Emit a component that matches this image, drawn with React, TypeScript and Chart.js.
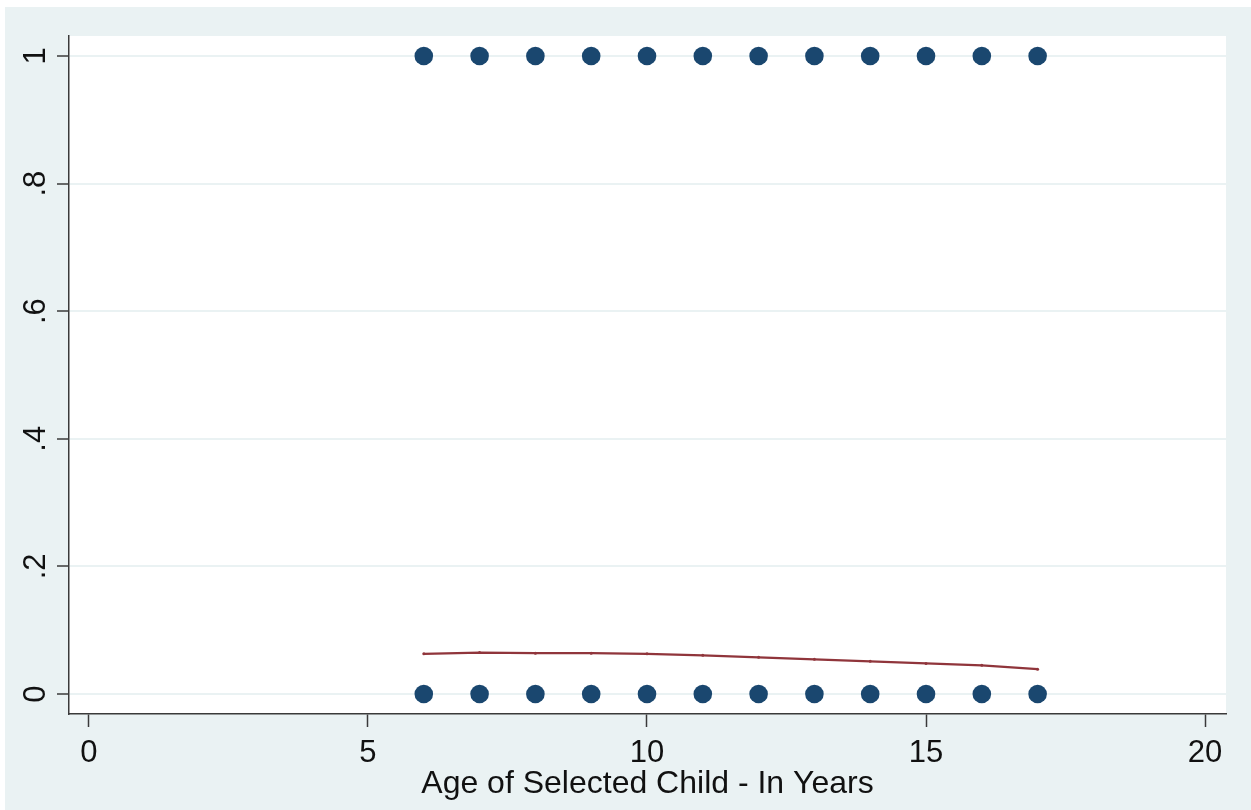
import React, { useEffect, useRef } from "react";
import { Chart, registerables } from "chart.js";

Chart.register(...registerables);

// Data
const ages = [6, 7, 8, 9, 10, 11, 12, 13, 14, 15, 16, 17];
const outcomeOne = [1, 1, 1, 1, 1, 1, 1, 1, 1, 1, 1, 1];
const outcomeZero = [0, 0, 0, 0, 0, 0, 0, 0, 0, 0, 0, 0];
const lowessFit = [0.063, 0.065, 0.064, 0.064, 0.063, 0.0606, 0.0575, 0.0544, 0.0512, 0.048, 0.045, 0.039];
const xTicks = [0, 5, 10, 15, 20];
const xTickLabels = ["0", "5", "10", "15", "20"];
const yTicks = [0, 0.2, 0.4, 0.6, 0.8, 1];
const yTickLabels = ["0", ".2", ".4", ".6", ".8", "1"];
const xTitle = "Age of Selected Child - In Years";

const BG = "#EAF2F3";
const AXIS = "#3a3a3a";
const FONT = "'Liberation Sans', Arial, sans-serif";

export default function App() {
  const ref = useRef<HTMLCanvasElement | null>(null);

  useEffect(() => {
    const canvas = ref.current;
    if (!canvas) return;

    const bgPlugin = {
      id: "stataBg",
      beforeDraw(chart: any) {
        const { ctx, chartArea } = chart;
        ctx.save();
        ctx.fillStyle = "#ffffff";
        ctx.fillRect(0, 0, chart.width, chart.height);
        ctx.fillStyle = BG;
        ctx.fillRect(5, 7, chart.width - 5, chart.height - 7);
        ctx.fillStyle = "#ffffff";
        ctx.fillRect(chartArea.left, chartArea.top, chartArea.right - chartArea.left, chartArea.bottom - chartArea.top);
        ctx.restore();
      },
      afterDraw(chart: any) {
        const { ctx } = chart;
        const ys = chart.scales.y;
        ctx.save();
        ctx.fillStyle = "#111111";
        ctx.font = `31px ${FONT}`;
        ctx.textAlign = "center";
        ctx.textBaseline = "alphabetic";
        yTicks.forEach((v, i) => {
          const py = ys.getPixelForValue(v);
          ctx.save();
          ctx.translate(45, py);
          ctx.rotate(-Math.PI / 2);
          ctx.fillText(yTickLabels[i], 0, 0);
          ctx.restore();
        });
        ctx.restore();
      },
    };

    const chart = new Chart(canvas, {
      type: "scatter",
      data: {
        datasets: [
          {
            label: "Lowess",
            type: "line",
            data: ages.map((a, i) => ({ x: a, y: lowessFit[i] })),
            borderColor: "#90353B",
            backgroundColor: "#90353B",
            borderWidth: 2.2,
            pointRadius: 1.5,
            pointBorderWidth: 0,
            tension: 0,
            fill: false,
            order: 0,
          } as any,
          {
            label: "One",
            data: ages.map((a, i) => ({ x: a, y: outcomeOne[i] })),
            backgroundColor: "#1A476F",
            borderWidth: 0,
            pointRadius: 9.3,
            order: 1,
          },
          {
            label: "Zero",
            data: ages.map((a, i) => ({ x: a, y: outcomeZero[i] })),
            backgroundColor: "#1A476F",
            borderWidth: 0,
            pointRadius: 9.3,
            order: 1,
          },
        ],
      },
      options: {
        animation: false,
        responsive: false,
        maintainAspectRatio: false,
        layout: { padding: { left: 0, right: 25, top: 36, bottom: 0 } },
        plugins: {
          legend: { display: false },
          tooltip: { enabled: false },
        },
        scales: {
          x: {
            type: "linear",
            min: -0.358,
            max: 20.376,
            afterBuildTicks: (s: any) => {
              s.ticks = xTicks.map((v) => ({ value: v }));
            },
            afterFit: (s: any) => {
              s.height = 96;
            },
            ticks: {
              callback: (v: any) => {
                const i = xTicks.indexOf(Number(v));
                return i >= 0 ? xTickLabels[i] : "";
              },
              color: "#111111",
              font: { family: FONT, size: 31 },
              padding: 8,
              maxRotation: 0,
              autoSkip: false,
            },
            grid: {
              drawOnChartArea: false,
              drawTicks: true,
              tickLength: 13,
              tickColor: AXIS,
              tickWidth: 1.5,
            },
            border: { display: true, color: AXIS, width: 1.5 },
            title: {
              display: true,
              text: xTitle,
              color: "#111111",
              font: { family: FONT, size: 32 },
              padding: { top: 0, bottom: 7 },
            },
          },
          y: {
            type: "linear",
            min: -0.0313,
            max: 1.0313,
            afterBuildTicks: (s: any) => {
              s.ticks = yTicks.map((v) => ({ value: v }));
            },
            afterFit: (s: any) => {
              s.width = 69;
            },
            ticks: { display: false },
            grid: {
              color: BG,
              lineWidth: 2,
              drawTicks: true,
              tickLength: 12,
              tickColor: AXIS,
              tickWidth: 1.5,
            },
            border: { display: true, color: AXIS, width: 1.5 },
          },
        },
      },
      plugins: [bgPlugin],
    } as any);

    return () => chart.destroy();
  }, []);

  return (
    <div style={{ position: "fixed", left: 0, top: 0, width: 1251, height: 810, background: "#fff" }}>
      <canvas ref={ref} width={1251} height={810} style={{ display: "block", width: 1251, height: 810 }} />
    </div>
  );
}
